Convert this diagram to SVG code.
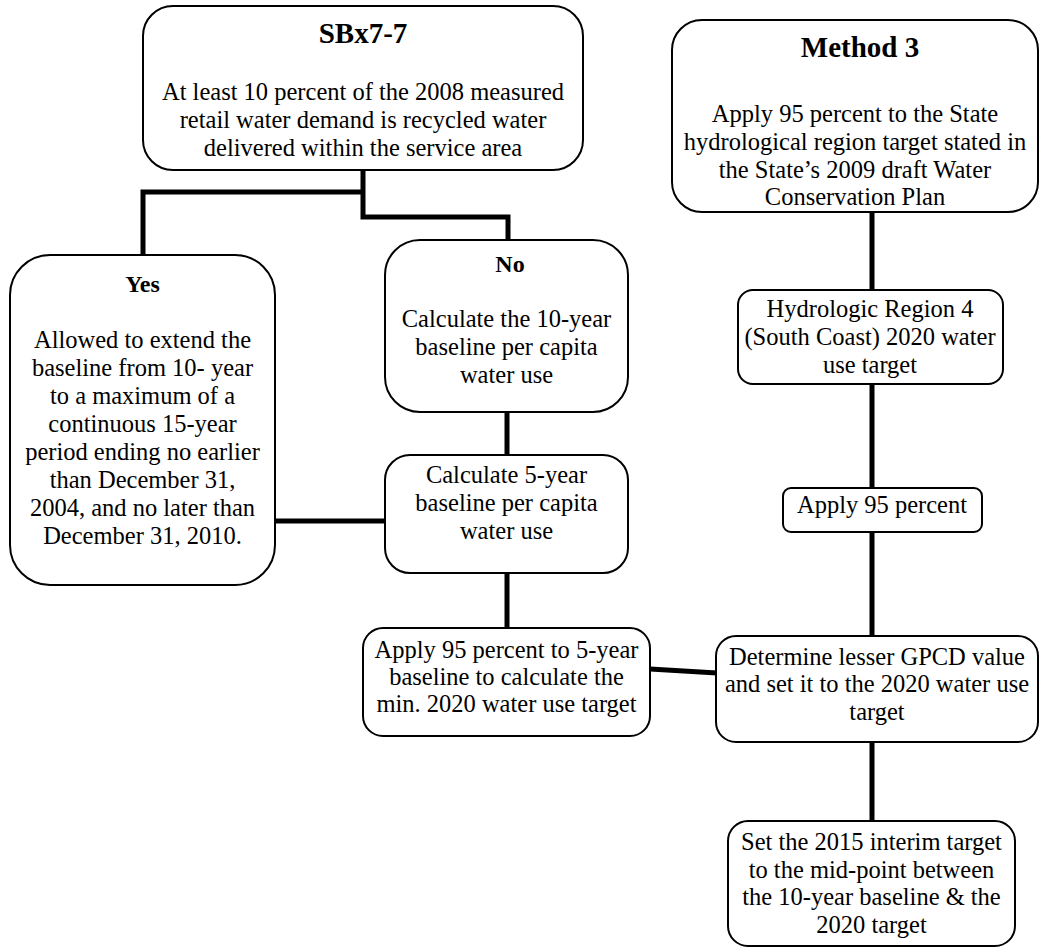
<svg xmlns="http://www.w3.org/2000/svg" width="1040" height="948" viewBox="0 0 1040 948">
<style>
.box{fill:#fff;stroke:#000;stroke-width:2}
.t{font-family:"Liberation Serif","Times New Roman",serif;font-size:24.5px;fill:#000;text-anchor:middle}
.h{font-family:"Liberation Serif","Times New Roman",serif;font-weight:bold;fill:#000;text-anchor:middle}
.c{fill:none;stroke:#000;stroke-width:5}
</style>
<rect width="1040" height="948" fill="#fff"/>
<g id="connectors">
<polyline class="c" points="363,170 363,217 508,217 508,241"/>
<polyline class="c" points="363,192 143,192 143,256"/>
<line class="c" x1="275" y1="521" x2="386" y2="521"/>
<line class="c" x1="507" y1="412" x2="507" y2="456"/>
<line class="c" x1="507" y1="573" x2="507" y2="629"/>
<line class="c" x1="650" y1="669" x2="717" y2="673"/>
<line class="c" x1="872" y1="212" x2="872" y2="291"/>
<line class="c" x1="872" y1="384" x2="872" y2="489"/>
<line class="c" x1="872" y1="532" x2="872" y2="637"/>
<line class="c" x1="872" y1="742" x2="872" y2="822"/>
</g>
<g id="sbx77">
<rect class="box" x="143" y="6" width="440" height="164" rx="30"/>
<text class="h" x="363" y="43" font-size="29">SBx7-7</text>
<text class="t" x="363" y="100">At least 10 percent of the 2008 measured</text>
<text class="t" x="363" y="128">retail water demand is recycled water</text>
<text class="t" x="363" y="156">delivered within the service area</text>
</g>
<g id="method3">
<rect class="box" x="672" y="20" width="366" height="192" rx="30"/>
<text class="h" x="860" y="57" font-size="29">Method 3</text>
<text class="t" x="855" y="122">Apply 95 percent to the State</text>
<text class="t" x="855" y="150">hydrological region target stated in</text>
<text class="t" x="855" y="178">the State’s 2009 draft Water</text>
<text class="t" x="855" y="205">Conservation Plan</text>
</g>
<g id="yes">
<rect class="box" x="10" y="255" width="265" height="330" rx="40"/>
<text class="h" x="142.5" y="292" font-size="24">Yes</text>
<text class="t" x="142.5" y="348">Allowed to extend the</text>
<text class="t" x="142.5" y="376">baseline from 10- year</text>
<text class="t" x="142.5" y="404">to a maximum of a</text>
<text class="t" x="142.5" y="432">continuous 15-year</text>
<text class="t" x="142.5" y="460">period ending no earlier</text>
<text class="t" x="142.5" y="488">than December 31,</text>
<text class="t" x="142.5" y="516">2004, and no later than</text>
<text class="t" x="142.5" y="544">December 31, 2010.</text>
</g>
<g id="no">
<rect class="box" x="385" y="240" width="243" height="172" rx="35"/>
<text class="h" x="510" y="272" font-size="24">No</text>
<text class="t" x="506.5" y="327">Calculate the 10-year</text>
<text class="t" x="506.5" y="355">baseline per capita</text>
<text class="t" x="506.5" y="383">water use</text>
</g>
<g id="calc5">
<rect class="box" x="385" y="455" width="243" height="118" rx="25"/>
<text class="t" x="506.5" y="483">Calculate 5-year</text>
<text class="t" x="506.5" y="511">baseline per capita</text>
<text class="t" x="506.5" y="539">water use</text>
</g>
<g id="hydro">
<rect class="box" x="738" y="290" width="265" height="94" rx="15"/>
<text class="t" x="870" y="317">Hydrologic Region 4</text>
<text class="t" x="870" y="345">(South Coast) 2020 water</text>
<text class="t" x="870" y="373">use target</text>
</g>
<g id="apply95">
<rect class="box" x="783" y="488" width="199" height="44" rx="8"/>
<text class="t" x="882" y="513">Apply 95 percent</text>
</g>
<g id="apply5yr">
<rect class="box" x="363" y="628" width="287" height="108" rx="20"/>
<text class="t" x="506.5" y="658">Apply 95 percent to 5-year</text>
<text class="t" x="506.5" y="685">baseline to calculate the</text>
<text class="t" x="506.5" y="712">min. 2020 water use target</text>
</g>
<g id="determine">
<rect class="box" x="716" y="636" width="322" height="106" rx="20"/>
<text class="t" x="877" y="665">Determine lesser GPCD value</text>
<text class="t" x="877" y="692">and set it to the 2020 water use</text>
<text class="t" x="877" y="720">target</text>
</g>
<g id="interim">
<rect class="box" x="728" y="821" width="287" height="125" rx="20"/>
<text class="t" x="871.5" y="850">Set the 2015 interim target</text>
<text class="t" x="871.5" y="878">to the mid-point between</text>
<text class="t" x="871.5" y="905">the 10-year baseline &amp; the</text>
<text class="t" x="871.5" y="933">2020 target</text>
</g>
</svg>
